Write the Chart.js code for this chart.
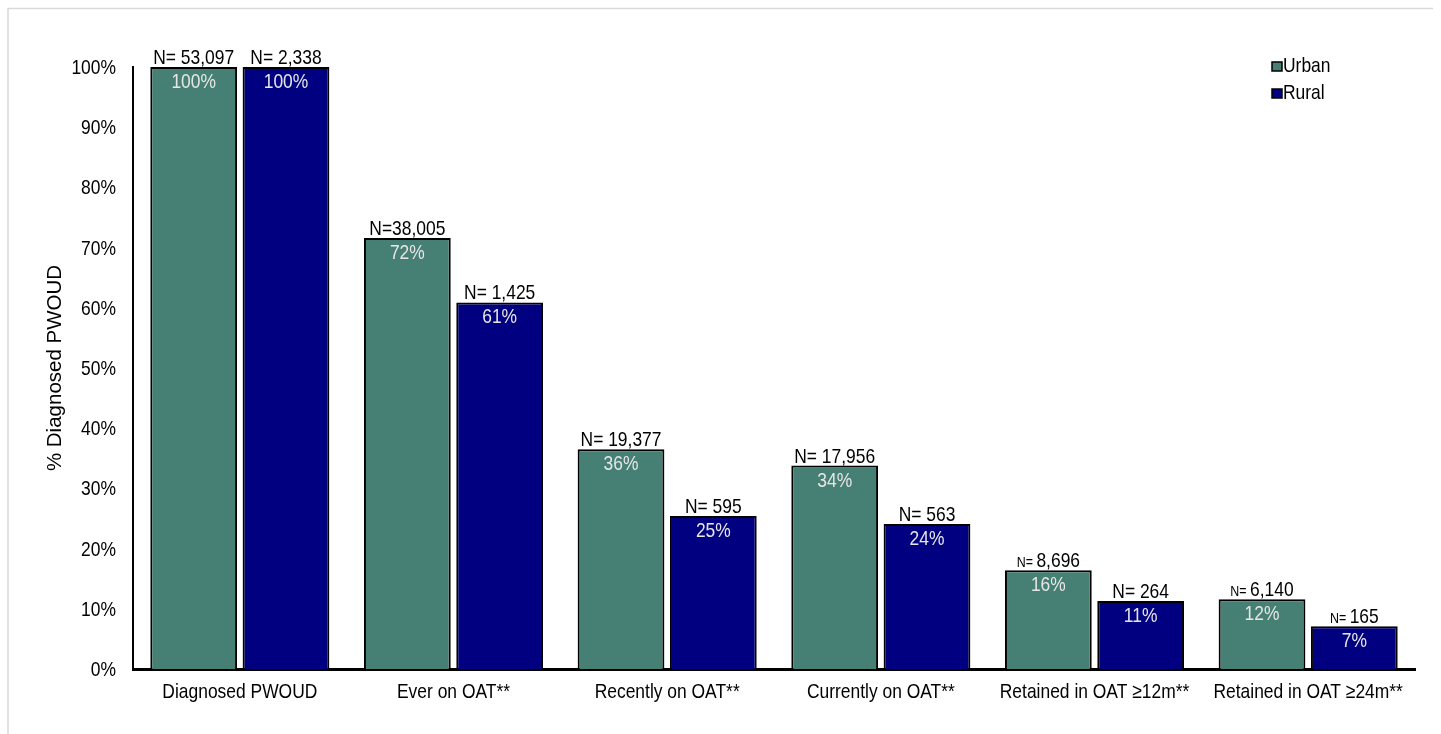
<!DOCTYPE html>
<html>
<head>
<meta charset="utf-8">
<script src="https://cdn.jsdelivr.net/npm/chart.js@4/dist/chart.umd.min.js"></script>
<style>
  html, body { margin: 0; padding: 0; background: #fff; }
  #wrap { width: 1441px; height: 734px; position: relative; }
</style>
</head>
<body>
<div id="wrap"><canvas id="chart"></canvas></div>
<script>
// Data
const categories = ["Diagnosed PWOUD", "Ever on OAT**", "Recently on OAT**", "Currently on OAT**", "Retained in OAT \u226512m**", "Retained in OAT \u226524m**"];
const urbanPct = [100, 71.6, 36.5, 33.8, 16.4, 11.6];
const ruralPct = [100, 60.9, 25.4, 24.1, 11.3, 7.1];
const urbanN = ["53,097", "38,005", "19,377", "17,956", "8,696", "6,140"];
const ruralN = ["2,338", "1,425", "595", "563", "264", "165"];
const urbanLabel = ["100%", "72%", "36%", "34%", "16%", "12%"];
const ruralLabel = ["100%", "61%", "25%", "24%", "11%", "7%"];
const yTicks = [0, 10, 20, 30, 40, 50, 60, 70, 80, 90, 100];

const FONT = "'Liberation Sans', Arial, sans-serif";
const TXT = "21px " + FONT;
const SX = 0.83; // the original text is horizontally squeezed
const URBAN = "#467F73";
const RURAL = "#000080";

// "N=" drawn smaller on a few labels, as in the original
const smallPrefix = { "0-4": true, "0-5": true, "1-5": true };

// draw text squeezed horizontally around its anchor
function squeezed(ctx, text, x, y, align, font, color) {
  ctx.save();
  ctx.translate(x, y);
  ctx.scale(SX, 1);
  ctx.font = font;
  ctx.fillStyle = color;
  ctx.textAlign = align;
  ctx.textBaseline = "alphabetic";
  ctx.fillText(text, 0, 0);
  ctx.restore();
}

// Tick labels of both axes, placed from the chart scales
const axisLabels = {
  id: "axisLabels",
  afterDraw(chart) {
    const ctx = chart.ctx;
    const xs = chart.scales.x;
    const ys = chart.scales.y;
    xs.ticks.forEach((t, i) => {
      squeezed(ctx, categories[i], xs.getPixelForTick(i), xs.top + 29, "center", TXT, "#000");
    });
    yTicks.forEach(v => {
      squeezed(ctx, v + "%", ys.right - 17, ys.getPixelForValue(v) + 7, "right", TXT, "#000");
    });
  }
};

// Draws N= counts above bars and percentages inside bars
const barLabels = {
  id: "barLabels",
  afterDatasetsDraw(chart) {
    const ctx = chart.ctx;
    const nSets = [urbanN, ruralN];
    const pSets = [urbanLabel, ruralLabel];
    chart.data.datasets.forEach((ds, di) => {
      const meta = chart.getDatasetMeta(di);
      meta.data.forEach((bar, i) => {
        const x = bar.x;
        const top = bar.y;
        squeezed(ctx, pSets[di][i], x, top + 21, "center", TXT, "#e6e6e6");
        const num = nSets[di][i];
        const small = smallPrefix[di + "-" + i];
        const pre = di === 0 && i === 1 ? "N=" : "N= ";
        const preFont = (small ? "15px " : "21px ") + FONT;
        ctx.save();
        ctx.font = preFont;
        const wPre = ctx.measureText(pre).width * SX;
        ctx.font = TXT;
        const wNum = ctx.measureText(num).width * SX;
        ctx.restore();
        const sx = x - (wPre + wNum) / 2;
        squeezed(ctx, pre, sx, top - 3, "left", preFont, "#000");
        squeezed(ctx, num, sx + wPre, top - 3, "left", TXT, "#000");
      });
    });
  }
};

// Legend in the upper right corner plus the light frame
const cornerLegend = {
  id: "cornerLegend",
  afterDraw(chart) {
    const ctx = chart.ctx;
    ctx.save();
    ctx.strokeStyle = "#d9d9d9";
    ctx.lineWidth = 1.5;
    ctx.beginPath();
    ctx.moveTo(8, 760);
    ctx.lineTo(8, 8.5);
    ctx.lineTo(1433, 8.5);
    ctx.stroke();
    chart.data.datasets.forEach((ds, i) => {
      const y = 62 + i * 27;
      ctx.fillStyle = ds.backgroundColor;
      ctx.fillRect(1272, y, 10, 9);
      ctx.strokeStyle = "#000";
      ctx.lineWidth = 1.5;
      ctx.strokeRect(1272, y, 10, 9);
      squeezed(ctx, ds.label, 1283, y + 10, "left", TXT, "#000");
    });
    ctx.restore();
  }
};

new Chart(document.getElementById("chart"), {
  type: "bar",
  data: {
    labels: categories,
    datasets: [
      { label: "Urban", data: urbanPct, backgroundColor: URBAN, borderColor: "#000", borderWidth: 2, borderSkipped: "bottom" },
      { label: "Rural", data: ruralPct, backgroundColor: RURAL, borderColor: "#000", borderWidth: 2, borderSkipped: "bottom" }
    ]
  },
  options: {
    responsive: true,
    maintainAspectRatio: false,
    animation: false,
    categoryPercentage: 0.864,
    barPercentage: 0.94,
    layout: { padding: { top: 67, right: 26, left: 43, bottom: 0 } },
    plugins: {
      legend: { display: false },
      tooltip: { enabled: false }
    },
    scales: {
      x: {
        grid: { display: false, drawTicks: false },
        border: { color: "#000", width: 3 },
        ticks: { display: false },
        afterFit(scale) { scale.height = 65; }
      },
      y: {
        min: 0,
        max: 100,
        afterBuildTicks(scale) { scale.ticks = yTicks.map(v => ({ value: v })); },
        grid: { display: false, drawTicks: false },
        border: { color: "#000", width: 2 },
        ticks: { display: false },
        title: { display: true, text: "% Diagnosed PWOUD", color: "#000", font: { family: FONT, size: 20.5 }, padding: { top: 0, bottom: 0 } },
        afterFit(scale) { scale.width = 90; }
      }
    }
  },
  plugins: [barLabels, axisLabels, cornerLegend]
});
</script>
</body>
</html>
